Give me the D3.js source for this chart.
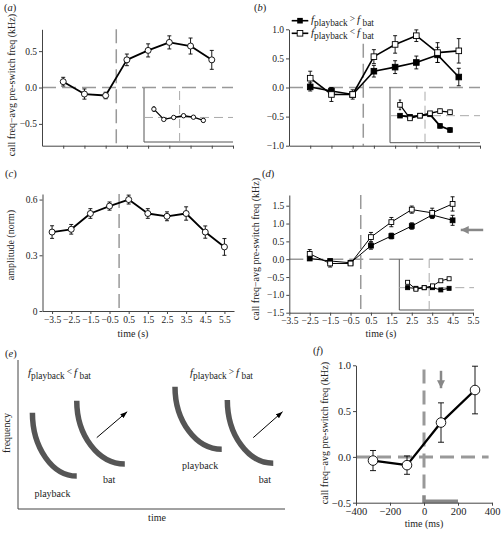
<!DOCTYPE html>
<html><head><meta charset="utf-8">
<script src="https://cdn.jsdelivr.net/npm/d3@7"></script>
<style>body{margin:0;background:#fff}svg{display:block;font-family:"Liberation Serif","Times New Roman",serif}</style>
</head><body><svg id="c" width="501" height="533"></svg>
<script>
// ---------- data ----------
const tAB = [-2.5,-1.5,-0.5,0.5,1.5,2.5,3.5,4.5];
const tTicksAB = [-2.5,-1.5,-0.5,0.5,1.5,2.5,3.5,4.5,5.5];
const tC = [-3.5,-2.5,-1.5,-0.5,0.5,1.5,2.5,3.5,4.5,5.5];
const insetIdx = [0,1,2,3,4,5];

const aMean = [0.08,-0.09,-0.11,0.38,0.51,0.62,0.57,0.38];
const aErr  = [0.06,0.07,0.045,0.08,0.09,0.09,0.11,0.13];
const aInset = [0.34,-0.08,0,0.07,0.01,-0.12];
const aInsetErr = [0.09,0.04,0.03,0.06,0.05,0.07];

const bHigh = [0.01,-0.06,-0.12,0.28,0.35,0.43,0.56,0.18];
const bHighErr = [0.07,0.05,0.04,0.10,0.11,0.11,0.13,0.15];
const bLow = [0.16,-0.12,-0.12,0.53,0.74,0.89,0.60,0.63];
const bLowErr = [0.12,0.12,0.08,0.12,0.15,0.10,0.17,0.21];
const bInsetLow = [0.40,-0.10,0,0.09,0.17,0.13];
const bInsetLowErr = [0.18,0.04,0.05,0.05,0.07,0.07];
const bInsetHigh = [0,-0.04,0,0.05,-0.38,-0.53];
const bInsetHighErr = [0.04,0.03,0.03,0.04,0.07,0.08];

const cMean = [0.425,0.44,0.525,0.565,0.60,0.525,0.51,0.525,0.425,0.345];
const cErr  = [0.034,0.026,0.026,0.022,0.024,0.026,0.024,0.036,0.033,0.045];

const dLow = [0.15,-0.12,-0.12,0.62,1.04,1.39,1.30,1.55];
const dLowErr = [0.12,0.10,0.05,0.13,0.13,0.10,0.13,0.20];
const dHigh = [0.02,-0.05,-0.10,0.38,0.65,0.93,1.24,1.09];
const dHighErr = [0.05,0.04,0.04,0.10,0.08,0.09,0.10,0.14];
const dInsetLow = [0.24,-0.07,0,0.08,0.31,0.40];
const dInsetHigh = [0,-0.03,0,0,-0.10,-0.03];

const fTime = [-300,-100,100,300];
const fMean = [-0.04,-0.09,0.375,0.73];
const fErr  = [0.11,0.10,0.215,0.26];

const ticksA = [-0.5,0,0.5];
const ticksB = [-1,-0.5,0,0.5,1];
const ticksC = [0,0.3,0.6];
const ticksD = [-1.5,-1,-0.5,0,0.5,1,1.5];
const ticksFx = [-400,-200,0,200,400];
const ticksFy = [-0.5,0,0.5,1];

// schematic (e) in normalized units
const eCurves = [
  {x0:0.054,y0:0.646,x1:0.220,y1:0.221},
  {x0:0.220,y0:0.727,x1:0.400,y1:0.302},
  {x0:0.588,y0:0.821,x1:0.763,y1:0.401},
  {x0:0.784,y0:0.732,x1:0.956,y1:0.307}
];
const eArrows = [{x0:0.295,y0:0.479,x1:0.409,y1:0.653},{x0:0.881,y0:0.479,x1:0.991,y1:0.653}];
const eTexts = [
  {t:"playback",u:0.129,v:0.107},{t:"bat",u:0.341,v:0.201},
  {t:"playback",u:0.682,v:0.289},{t:"bat",u:0.925,v:0.201}
];

// ---------- drawing ----------
const svg = d3.select("#c");
const AX = "#444", DASH = "#999", FONT = '"Liberation Serif","Times New Roman",serif';
const defs = svg.append("defs");
function mk(id, color, w, h){
  defs.append("marker").attr("id",id).attr("viewBox",`0 0 ${w} ${h}`).attr("refX",w).attr("refY",h/2)
    .attr("markerWidth",w).attr("markerHeight",h).attr("markerUnits","userSpaceOnUse").attr("orient","auto")
    .append("path").attr("d",`M0,0L${w},${h/2}L0,${h}Z`).attr("fill",color);
}
mk("ahk","#000",7,5); mk("ahg","#888",8,8);

function styleAxis(g, fs){
  g.attr("font-family",FONT).attr("font-size",fs);
  g.select(".domain").attr("stroke",AX);
  g.selectAll(".tick line").attr("stroke",AX);
  g.selectAll(".tick text").attr("fill","#222");
}
function dline(x1,y1,x2,y2,col,w,dash){
  svg.append("line").attr("x1",x1).attr("y1",y1).attr("x2",x2).attr("y2",y2)
    .attr("stroke",col).attr("stroke-width",w).attr("stroke-dasharray",dash||null);
}
function series(x,y,xs,ms,es,o){
  const g = svg.append("g");
  g.append("path").datum(xs.map((t,i)=>[t,ms[i]])).attr("fill","none").attr("stroke","#000")
    .attr("stroke-width",o.lw).attr("stroke-linejoin","round")
    .attr("d",d3.line().x(d=>x(d[0])).y(d=>y(d[1])));
  if(es){
    const eb = g.append("g").attr("stroke","#000").attr("stroke-width",0.9);
    xs.forEach((t,i)=>{
      const cx=x(t), y1=y(ms[i]-es[i]), y2=y(ms[i]+es[i]);
      eb.append("line").attr("x1",cx).attr("x2",cx).attr("y1",y1).attr("y2",y2);
      [y1,y2].forEach(yy=>eb.append("line").attr("x1",cx-o.cap).attr("x2",cx+o.cap).attr("y1",yy).attr("y2",yy));
    });
  }
  xs.forEach((t,i)=>{
    if(o.shape==="circle") g.append("circle").attr("cx",x(t)).attr("cy",y(ms[i])).attr("r",o.r)
      .attr("fill",o.fill).attr("stroke","#000").attr("stroke-width",0.9);
    else g.append("rect").attr("x",x(t)-o.r).attr("y",y(ms[i])-o.r).attr("width",2*o.r).attr("height",2*o.r)
      .attr("fill",o.fill).attr("stroke","#000").attr("stroke-width",0.9);
  });
}
function panelLabel(x,y,letter){
  const t = svg.append("text").attr("x",x).attr("y",y).attr("font-size",10.5).attr("fill","#222");
  t.append("tspan").text("(");
  t.append("tspan").attr("font-style","italic").text(letter);
  t.append("tspan").text(")");
}
function yTitle(cx,cy,txt,fs){
  svg.append("text").attr("transform",`translate(${cx},${cy}) rotate(-90)`).attr("text-anchor","middle")
    .attr("dominant-baseline","middle").attr("font-size",fs||10).attr("fill","#222").text(txt);
}
function xTitle(cx,cy,txt,fs){
  svg.append("text").attr("x",cx).attr("y",cy).attr("text-anchor","middle").attr("font-size",fs||10).attr("fill","#222").text(txt);
}
function fRich(x,y,rel,fs){
  const t = svg.append("text").attr("x",x).attr("y",y).attr("font-size",fs).attr("fill","#222");
  t.append("tspan").attr("font-style","italic").text("f");
  t.append("tspan").attr("font-size",fs*0.85).attr("dy",3).text("playback");
  t.append("tspan").attr("font-size",fs*0.85).attr("dy",-4).attr("dx",2).text(rel);
  t.append("tspan").attr("font-style","italic").attr("dy",1).attr("dx",2).text("f");
  t.append("tspan").attr("font-size",fs*0.85).attr("dy",3).text(" bat");
}
const fmt1 = d3.format(".1f");

function mainAxes(x,y,yt,xticks,xlabels,fs){
  const gx = svg.append("g").attr("transform",`translate(0,${y.range()[0]})`)
    .call(d3.axisBottom(x).tickValues(xticks).tickSize(3).tickSizeOuter(0).tickPadding(2)
      .tickFormat(xlabels?fmt1:""));
  styleAxis(gx,fs);
  const gy = svg.append("g").attr("transform",`translate(${x.range()[0]},0)`)
    .call(d3.axisLeft(y).tickValues(yt).tickSize(3).tickSizeOuter(0).tickPadding(2)
      .tickFormat(d=> (yt===ticksC ? (d===0?"0":fmt1(d)) : fmt1(d))));
  styleAxis(gy,fs);
}
function inset(xr,yr,yd,vline,seriesList){
  const ix = d3.scaleLinear().domain([-1,8]).range(xr);
  const iy = d3.scaleLinear().domain(yd).range(yr);
  dline(xr[0],yr[0],xr[0],yr[1],"#555",1);
  dline(xr[0],yr[0],xr[1],yr[0],"#555",1);
  dline(xr[0],iy(0),xr[1],iy(0),"#aaa",1,"9,5");
  dline(ix(vline),yr[0],ix(vline),yr[1],"#aaa",1,"9,5");
  seriesList.forEach(s=>series(ix,iy,insetIdx,s.m,s.e,s.o));
}

// ===== (a) =====
{
  const x = d3.scaleLinear().domain([-3.5,5.5]).range([42,233]);
  const y = d3.scaleLinear().domain([-0.8,0.8]).range([145.7,29.3]);
  dline(x(-3.5),y(0),x(5.5),y(0),DASH,1.5,"14,6");
  dline(x(0),y(0.8),x(0),y(-0.8),DASH,1.5,"14,6");
  mainAxes(x,y,ticksA,tTicksAB,false,9.5);
  inset([144,233],[142,88],[-1,1.2],2.6,[{m:aInset,e:aInsetErr,o:{shape:"circle",r:2.2,fill:"#fff",lw:1.3,cap:1.2}}]);
  series(x,y,tAB,aMean,aErr,{shape:"circle",r:3,fill:"#fff",lw:1.8,cap:2});
  panelLabel(4,11,"a");
  yTitle(13,85,"call freq−avg pre-switch freq (kHz)");
}
// ===== (b) =====
{
  const x = d3.scaleLinear().domain([-3.5,5.5]).range([289,480]);
  const y = d3.scaleLinear().domain([-1,1]).range([145.7,29.3]);
  dline(x(-3.5),y(0),x(5.5),y(0),DASH,1.5,"14,6");
  dline(x(0),y(0.75),x(0),y(-1),DASH,1.5,"14,6");
  mainAxes(x,y,ticksB,tTicksAB,false,9.5);
  inset([390,480],[142.7,87.3],[-1,1.05],2.5,[
    {m:bInsetHigh,e:bInsetHighErr,o:{shape:"square",r:2.3,fill:"#000",lw:1.8,cap:1.2}},
    {m:bInsetLow,e:bInsetLowErr,o:{shape:"square",r:2.3,fill:"#fff",lw:1.3,cap:1.2}}]);
  series(x,y,tAB,bHigh,bHighErr,{shape:"square",r:2.8,fill:"#000",lw:1.6,cap:2});
  series(x,y,tAB,bLow,bLowErr,{shape:"square",r:2.8,fill:"#fff",lw:1.6,cap:2});
  panelLabel(254,11,"b");
  // legend
  dline(291.7,20.7,308.3,20.7,"#000",1.6); svg.append("rect").attr("x",297.2).attr("y",17.9).attr("width",5.6).attr("height",5.6).attr("fill","#000");
  dline(291.7,33.3,308.3,33.3,"#000",1.6); svg.append("rect").attr("x",297.2).attr("y",30.5).attr("width",5.6).attr("height",5.6).attr("fill","#fff").attr("stroke","#000").attr("stroke-width",0.9);
  fRich(311,23,">",11); fRich(311,36,"<",11);
}
// ===== (c) =====
{
  const x = d3.scaleLinear().domain([-4,6]).range([42.5,234]);
  const y = d3.scaleLinear().domain([0,0.63]).range([311,194]);
  dline(x(0),y(0.63),x(0),y(0),DASH,1.5,"14,6");
  mainAxes(x,y,ticksC,tC,true,9.5);
  series(x,y,tC,cMean,cErr,{shape:"circle",r:3,fill:"#fff",lw:1.8,cap:2});
  panelLabel(5,177,"c");
  yTitle(12,245,"amplitude (norm)");
  xTitle(133,337,"time (s)");
}
// ===== (d) =====
{
  const x = d3.scaleLinear().domain([-3.5,5.5]).range([289.3,473]);
  const y = d3.scaleLinear().domain([-1.5,1.8]).range([312.7,195]);
  dline(x(-3.5),y(0),x(5.5),y(0),DASH,1.5,"14,6");
  dline(x(0),y(1.8),x(0),y(-1.5),DASH,1.5,"14,6");
  mainAxes(x,y,ticksD,tC,true,9.5);
  inset([399.3,474],[310,259.3],[-1,1.27],2.6,[
    {m:dInsetHigh,e:null,o:{shape:"square",r:2,fill:"#000",lw:1,cap:1}},
    {m:dInsetLow,e:null,o:{shape:"square",r:2,fill:"#fff",lw:1,cap:1}}]);
  series(x,y,tAB,dHigh,dHighErr,{shape:"square",r:2.4,fill:"#000",lw:1,cap:2});
  series(x,y,tAB,dLow,dLowErr,{shape:"square",r:2.4,fill:"#fff",lw:1,cap:2});
  svg.append("line").attr("x1",x(6.0)).attr("x2",x(4.9)).attr("y1",y(0.82)).attr("y2",y(0.82))
    .attr("stroke","#888").attr("stroke-width",2.5).attr("marker-end","url(#ahg)");
  panelLabel(262,177,"d");
  yTitle(257,249,"call freq−avg pre-switch freq (kHz)");
  xTitle(381,337,"time (s)");
}
// ===== (e) =====
{
  const ex = d3.scaleLinear().domain([0,1]).range([18,285]);
  const ey = d3.scaleLinear().domain([0,1]).range([509,360]);
  dline(ex(0),ey(0),ex(0),ey(1),AX,1);
  dline(ex(0),ey(0),ex(1),ey(0),AX,1);
  eCurves.forEach(c=>{
    const X0=ex(c.x0),Y0=ey(c.y0),X1=ex(c.x1),Y1=ey(c.y1);
    const k=0.55;
    svg.append("path").attr("d",`M${X0},${Y0}C${X0},${Y0+k*(Y1-Y0)} ${X1-k*(X1-X0)},${Y1} ${X1},${Y1}`)
      .attr("fill","none").attr("stroke","#555").attr("stroke-width",5.5);
  });
  eArrows.forEach(a=>svg.append("line").attr("x1",ex(a.x0)).attr("y1",ey(a.y0)).attr("x2",ex(a.x1)).attr("y2",ey(a.y1))
    .attr("stroke","#000").attr("stroke-width",1).attr("marker-end","url(#ahk)"));
  eTexts.forEach(t=>svg.append("text").attr("x",ex(t.u)).attr("y",ey(t.v)+3.5).attr("text-anchor","middle")
    .attr("font-size",10).attr("fill","#222").text(t.t));
  fRich(28,376,"<",11); fRich(190,376,">",11);
  panelLabel(5,357,"e");
  yTitle(8,433,"frequency");
  xTitle(157,521,"time");
}
// ===== (f) =====
{
  const x = d3.scaleLinear().domain([-400,400]).range([356,492]);
  const y = d3.scaleLinear().domain([-0.5,1.0]).range([502.7,365.3]);
  dline(x(-400),y(0),x(380),y(0),DASH,3,"14,7");
  dline(x(0),y(0.955),x(0),y(-0.42),DASH,3,"14,7");
  svg.append("path").datum([[0,-0.42],[0,-0.485],[200,-0.485]]).attr("fill","none").attr("stroke","#888")
    .attr("stroke-width",3.5).attr("d",d3.line().x(d=>x(d[0])).y(d=>y(d[1])));
  const gx = svg.append("g").attr("transform",`translate(0,${y.range()[0]})`)
    .call(d3.axisBottom(x).tickValues(ticksFx).tickSize(3).tickSizeOuter(0).tickPadding(2).tickFormat(d3.format("d")));
  styleAxis(gx,10.5);
  const gy = svg.append("g").attr("transform",`translate(${x.range()[0]},0)`)
    .call(d3.axisLeft(y).tickValues(ticksFy).tickSize(3).tickSizeOuter(0).tickPadding(2).tickFormat(fmt1));
  styleAxis(gy,10.5);
  svg.append("line").attr("x1",x(100)).attr("x2",x(100)).attr("y1",y(0.94)).attr("y2",y(0.75))
    .attr("stroke","#888").attr("stroke-width",2.5).attr("marker-end","url(#ahg)");
  series(x,y,fTime,fMean,fErr,{shape:"circle",r:4.8,fill:"#fff",lw:2.3,cap:3});
  panelLabel(313,354,"f");
  yTitle(326,433,"call freq−avg pre-switch freq (kHz)",10);
  xTitle(424,527,"time (ms)");
}
</script></body></html>
